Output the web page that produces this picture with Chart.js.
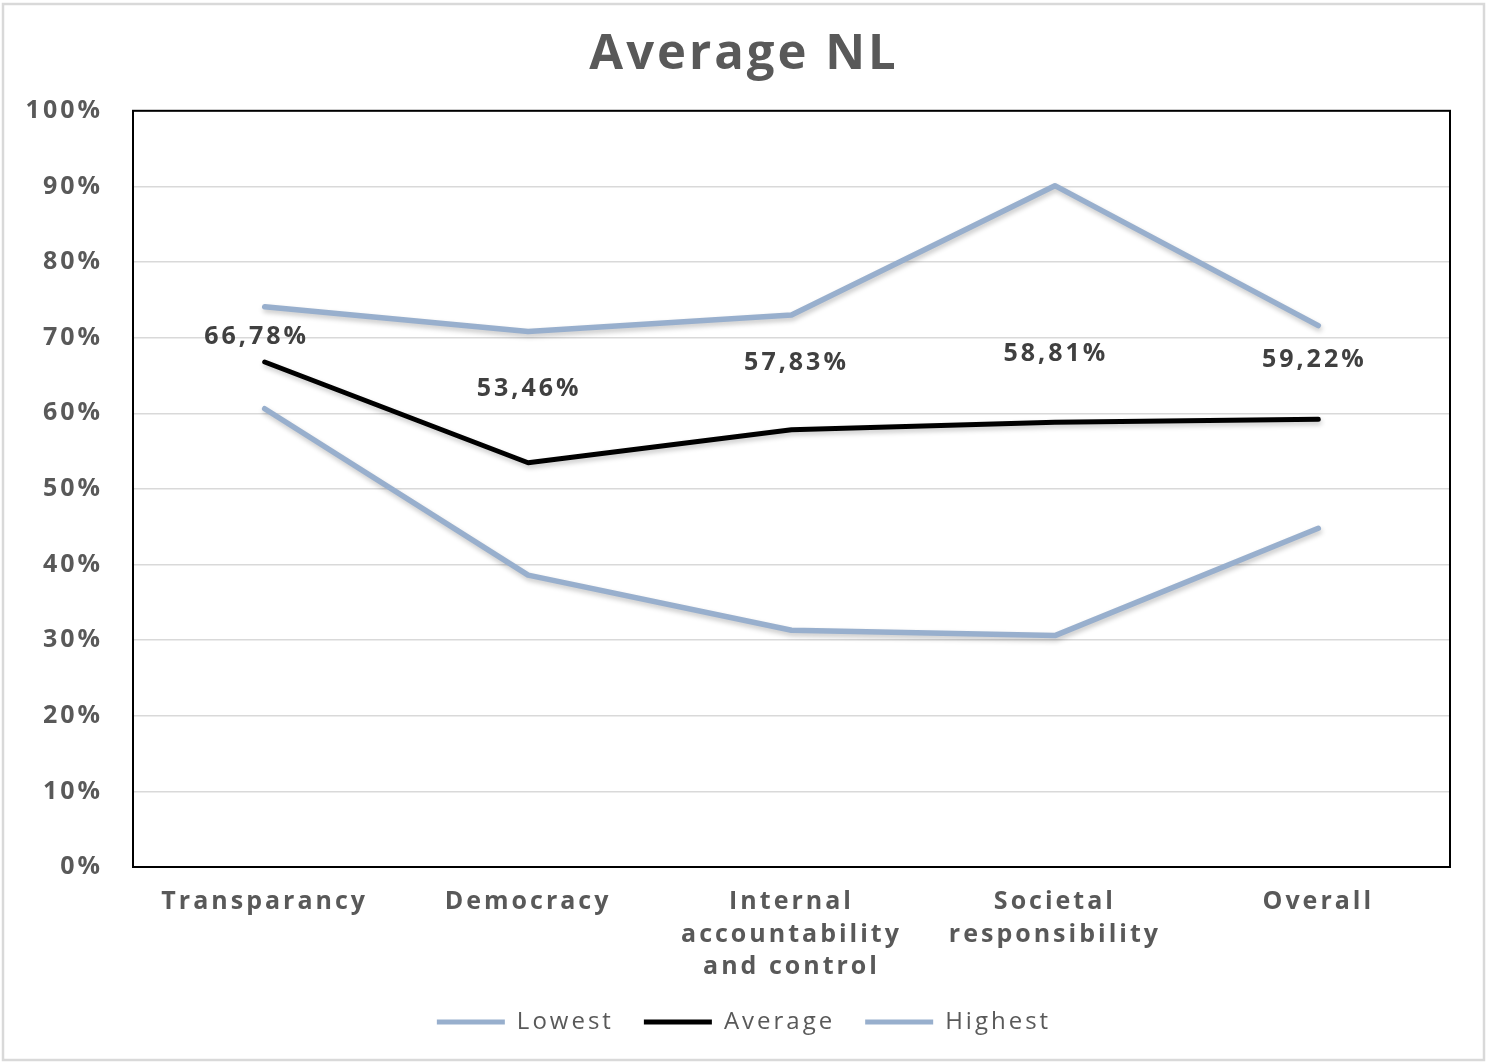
<!DOCTYPE html>
<html>
<head>
<meta charset="utf-8">
<script src="https://cdn.jsdelivr.net/npm/chart.js@4.4.1/dist/chart.umd.min.js"></script>
<style>
  html, body { margin: 0; padding: 0; background: #fff; }
  #wrap { width: 1488px; height: 1063px; }
</style>
</head>
<body>
<div id="wrap"><canvas id="myChart" width="1488" height="1063"></canvas></div>
<script>
// Datos (porcentajes)
const categories = ['Transparancy', 'Democracy', ['Internal', 'accountability', 'and control'], ['Societal', 'responsibility'], 'Overall'];
const lowestValues = [60.6, 38.6, 31.3, 30.6, 44.8];
const averageValues = [66.78, 53.46, 57.83, 58.81, 59.22];
const highestValues = [74.1, 70.8, 73.0, 90.1, 71.6];

const blueLine = '#98afcd';
const greyText = '#595959';
const spacing = '3px';

// desplazamiento de las etiquetas de Average (px encima del punto / lateral)
const labelLift = [25, 74, 67, 68, 59];
const labelShift = [-8, 1, 5, 1, -4];

const fmtPct = v => v.toFixed(2).replace('.', ',') + '%';

const letterSpacingPlugin = {
    id: 'letterSpacing',
    beforeUpdate(chart) { chart.ctx.letterSpacing = spacing; },
    beforeLayout(chart) { chart.ctx.letterSpacing = spacing; },
    beforeDraw(chart) { chart.ctx.letterSpacing = spacing; },
};

const framePlugin = {
    id: 'frame',
    beforeDraw(chart) {
        const ctx = chart.ctx;
        ctx.save();
        ctx.fillStyle = '#fff';
        ctx.fillRect(0, 0, chart.width, chart.height);
        ctx.strokeStyle = '#d9d9d9';
        ctx.lineWidth = 2.5;
        ctx.strokeRect(3, 4, 1481, 1056);
        ctx.restore();
    },
    beforeDatasetsDraw(chart) {
        const ctx = chart.ctx;
        const a = chart.chartArea;
        ctx.save();
        ctx.strokeStyle = '#000';
        ctx.lineWidth = 2;
        ctx.strokeRect(a.left, a.top, a.right - a.left, a.bottom - a.top);
        ctx.restore();
        // sombra de las lineas
        ctx.save();
        ctx.shadowColor = 'rgba(0,0,0,0.22)';
        ctx.shadowBlur = 5;
        ctx.shadowOffsetX = 1;
        ctx.shadowOffsetY = 3;
    },
    afterDatasetsDraw(chart) {
        const ctx = chart.ctx;
        ctx.restore();
        const meta = chart.getDatasetMeta(1);
        ctx.save();
        ctx.font = 'bold 25px "Open Sans"';
        ctx.fillStyle = '#404040';
        ctx.textAlign = 'center';
        ctx.textBaseline = 'middle';
        meta.data.forEach((pt, i) => {
            ctx.fillText(fmtPct(averageValues[i]), pt.x + labelShift[i], pt.y - labelLift[i]);
        });
        ctx.restore();
    }
};

const ctx = document.getElementById('myChart').getContext('2d');

const myChart = new Chart(ctx, {
    type: 'line',
    data: {
        labels: categories,
        datasets: [
            { label: 'Lowest', data: lowestValues, borderColor: blueLine, backgroundColor: blueLine, borderWidth: 5.5 },
            { label: 'Average', data: averageValues, borderColor: '#000', backgroundColor: '#000', borderWidth: 5 },
            { label: 'Highest', data: highestValues, borderColor: blueLine, backgroundColor: blueLine, borderWidth: 5.5 },
        ]
    },
    options: {
        responsive: false,
        animation: false,
        devicePixelRatio: 1,
        layout: { padding: { top: 0, right: 0, bottom: 19, left: 0 } },
        elements: {
            point: { radius: 0, hoverRadius: 0 },
            line: { tension: 0, borderJoinStyle: 'round', borderCapStyle: 'round' },
        },
        scales: {
            x: {
                offset: true,
                grid: { display: false, drawTicks: false },
                border: { display: false },
                ticks: {
                    color: greyText,
                    padding: 19,
                    maxRotation: 0,
                    autoSkip: false,
                    font: { family: 'Open Sans', size: 25, weight: 'bold', lineHeight: 1.3 },
                },
                afterFit(scale) { scale.height = 113; },
            },
            y: {
                min: 0,
                max: 100,
                grid: { color: '#d9d9d9', lineWidth: 1.5, drawTicks: false },
                border: { display: false },
                ticks: {
                    stepSize: 10,
                    color: greyText,
                    padding: 30,
                    font: { family: 'Open Sans', size: 25, weight: 'bold' },
                    callback: v => v + '%',
                },
                afterFit(scale) { scale.width = 133; },
            },
            // eje vacio a la derecha solo para reservar el margen
            yRight: {
                position: 'right',
                min: 0,
                max: 100,
                grid: { display: false, drawTicks: false },
                border: { display: false },
                ticks: { display: false },
                afterFit(scale) { scale.width = 38; },
            }
        },
        plugins: {
            title: {
                display: true,
                text: 'Average NL',
                color: greyText,
                font: { family: 'Open Sans', size: 49, weight: 'bold', lineHeight: 1.2 },
                padding: { top: 26, bottom: 26 },
            },
            legend: {
                position: 'bottom',
                labels: {
                    color: greyText,
                    boxWidth: 68,
                    boxHeight: 5,
                    padding: 30,
                    font: { family: 'Open Sans', size: 24 },
                    generateLabels(chart) {
                        const items = Chart.defaults.plugins.legend.labels.generateLabels(chart);
                        items.forEach(item => {
                            item.fillStyle = item.strokeStyle;
                            item.lineWidth = 0;
                        });
                        return items;
                    }
                }
            },
            tooltip: { enabled: false },
        }
    },
    plugins: [letterSpacingPlugin, framePlugin],
});
</script>
</body>
</html>
